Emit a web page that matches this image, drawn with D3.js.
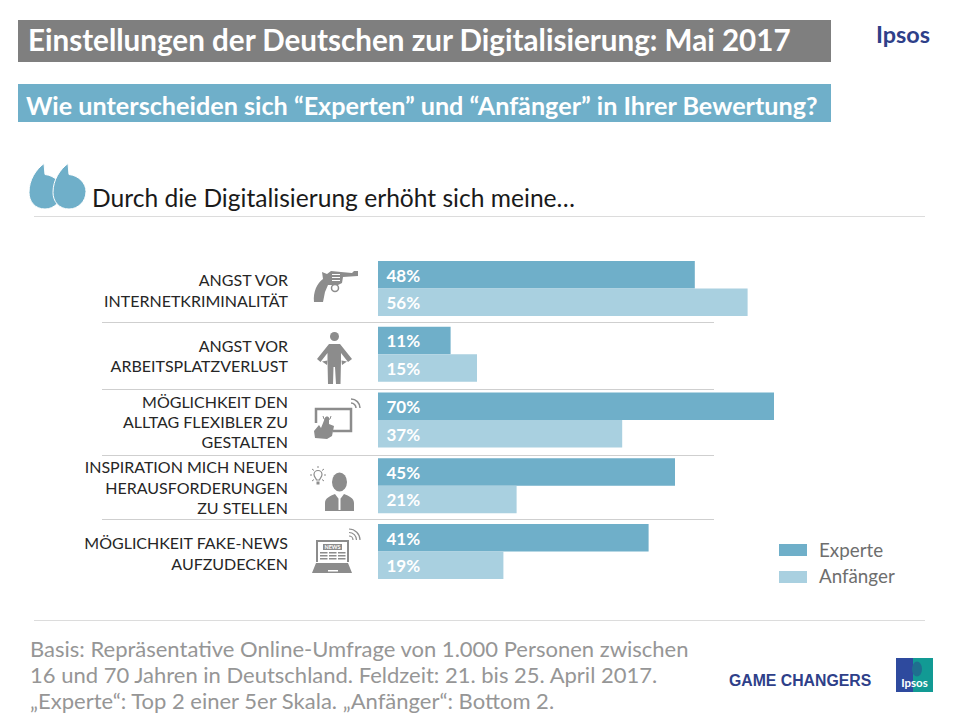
<!DOCTYPE html>
<html>
<head>
<meta charset="utf-8">
<script src="https://cdn.jsdelivr.net/npm/d3@7"></script>
<style>
    html, body { margin: 0; padding: 0; background: #fff; }
    text { font-family: Lato, "Open Sans", sans-serif; }
</style>
</head>
<body>
<div id="chart"></div>
<script>
// values
let categories = ['kriminalitaet', 'arbeitsplatz', 'alltag', 'inspiration', 'fakenews'];
let categoryLines = [
    ['ANGST VOR', 'INTERNETKRIMINALITÄT'],
    ['ANGST VOR', 'ARBEITSPLATZVERLUST'],
    ['MÖGLICHKEIT DEN', 'ALLTAG FLEXIBLER ZU', 'GESTALTEN'],
    ['INSPIRATION MICH NEUEN', 'HERAUSFORDERUNGEN', 'ZU STELLEN'],
    ['MÖGLICHKEIT FAKE-NEWS', 'AUFZUDECKEN']
];
let seriesNames = ['Experte', 'Anfänger'];
// the third Experte bar is printed "70%" but drawn only as long as 60 in the original
let experteValues = [48, 11, 60, 45, 41];
let experteLabels = ['48%', '11%', '70%', '45%', '41%'];
let anfaengerValues = [56, 15, 37, 21, 19];
let anfaengerLabels = ['56%', '15%', '37%', '21%', '19%'];
let footnoteLines = [
    'Basis: Repräsentative Online-Umfrage von 1.000 Personen zwischen',
    '16 und 70 Jahren in Deutschland. Feldzeit: 21. bis 25. April 2017.',
    '„Experte“: Top 2 einer 5er Skala. „Anfänger“: Bottom 2.'
];

let color = d3.scaleOrdinal()
    .domain(seriesNames)
    .range(['#6fafc9', '#a9d0e0']);

let svg = d3.select('#chart').append('svg')
    .attr('width', 960)
    .attr('height', 720)
    .style('display', 'block');

// header bands
svg.append('rect').attr('x', 18).attr('y', 20).attr('width', 813).attr('height', 42).attr('fill', '#7f7f7f');
svg.append('text').attr('x', 28).attr('y', 51)
    .attr('font-size', 29.6).attr('font-weight', 700).attr('fill', '#fff')
    .text('Einstellungen der Deutschen zur Digitalisierung: Mai 2017');

svg.append('rect').attr('x', 18).attr('y', 84).attr('width', 813).attr('height', 38).attr('fill', '#6fafc9');
svg.append('text').attr('x', 26).attr('y', 114.5)
    .attr('font-size', 25.2).attr('font-weight', 700).attr('fill', '#fff')
    .text('Wie unterscheiden sich “Experten” und “Anfänger” in Ihrer Bewertung?');

svg.append('text').attr('x', 876).attr('y', 43)
    .attr('font-size', 23.4).attr('font-weight', 700).attr('fill', '#2e4089')
    .text('Ipsos');

// quote marks, second one laps over the first
let quote = 'M15,0 L16,11 C26,12 33,20 33,28 C33,38 25,45.5 16,45.5 C6,45.5 0,38 0,29 C0,16 7,6 15,0 Z';
[29, 53].forEach(function(qx) {
    svg.append('path')
        .attr('d', quote)
        .attr('transform', 'translate(' + qx + ',163.5)')
        .attr('fill', '#6fafc9')
        .attr('stroke', '#fff')
        .attr('stroke-width', 1);
});

svg.append('text').attr('x', 92).attr('y', 206.5)
    .attr('font-size', 24.6).attr('fill', '#1a1a1a')
    .text('Durch die Digitalisierung erhöht sich meine…');

// dotted rules
[216.5, 620.5].forEach(function(ry) {
    svg.append('line')
        .attr('x1', 34).attr('x2', 925).attr('y1', ry).attr('y2', ry)
        .attr('stroke', '#dcdcdc').attr('stroke-width', 1);
});

// scales
let x = d3.scaleLinear().domain([0, 100]).range([378, 1038]);
let y = d3.scaleBand().domain(categories).range([261, 579]).paddingInner(0.1635);
let ySeries = d3.scaleBand().domain(seriesNames).range([0, y.bandwidth()]);

let rows = categories.map(function(c, i) {
    return {
        id: c,
        lines: categoryLines[i],
        bars: [
            { series: seriesNames[0], value: experteValues[i], label: experteLabels[i] },
            { series: seriesNames[1], value: anfaengerValues[i], label: anfaengerLabels[i] }
        ]
    };
});

let row = svg.append('g').selectAll('.row')
    .data(rows)
    .enter().append('g')
    .classed('row', true)
    .attr('transform', function(d) { return 'translate(0,' + y(d.id) + ')'; });

row.selectAll('rect')
    .data(function(d) { return d.bars; })
    .enter().append('rect')
    .attr('x', x(0))
    .attr('y', function(d) { return ySeries(d.series); })
    .attr('width', function(d) { return x(d.value) - x(0); })
    .attr('height', ySeries.bandwidth())
    .attr('fill', function(d) { return color(d.series); });

row.selectAll('.val')
    .data(function(d) { return d.bars; })
    .enter().append('text')
    .classed('val', true)
    .attr('x', x(0) + 8.5)
    .attr('y', function(d) { return ySeries(d.series) + ySeries.bandwidth() / 2 + 7; })
    .attr('font-size', 17)
    .attr('font-weight', 700)
    .attr('fill', '#fff')
    .text(function(d) { return d.label; });

// category labels, centred on the row
row.each(function(d) {
    let n = d.lines.length;
    let lineH = 20.5;
    let top = y.bandwidth() / 2 - (n - 1) * lineH / 2 + 8;
    d3.select(this).selectAll('.cat')
        .data(d.lines)
        .enter().append('text')
        .classed('cat', true)
        .attr('x', 288)
        .attr('y', function(l, i) { return top + i * lineH; })
        .attr('text-anchor', 'end')
        .attr('font-size', 16)
        .attr('fill', '#262626')
        .text(function(l) { return l; });
});

// separators between the rows
[322.5, 389.5, 455.5, 519.5].forEach(function(sy) {
    svg.append('line')
        .attr('x1', 102).attr('x2', 714).attr('y1', sy).attr('y2', sy)
        .attr('stroke', '#cfcfcf').attr('stroke-width', 1);
});

// pictograms
let grey = '#8c8c8c';
let icons = svg.append('g').attr('fill', grey);

function strokePath(d, w) {
    return icons.append('path')
        .attr('d', d)
        .attr('fill', 'none')
        .attr('stroke', grey)
        .attr('stroke-width', w);
}

// revolver
icons.append('path').attr('d',
    'M322,272 L327,274 L331,271 L341,272 L352,273 L354,271 L358,271 L358,276 L343,277 L342,283 L338,285 ' +
    'L328,285 L325,292 L323,302 L314,302 C313,292 317,283 323,279 Z');
strokePath('M332,274.5 H340 M332,277.5 H340 M332,280.5 H340', 1).attr('stroke', '#fff');
strokePath('M338.5,288 A3.5,3.5 0 1 1 331.5,288 A3.5,3.5 0 1 1 338.5,288', 1.5);

// person with empty pockets
icons.append('circle').attr('cx', 334.5).attr('cy', 336.5).attr('r', 4.5);
icons.append('path').attr('d',
    'M329,344 H340 L352,359 L348,362 L341,353 L341,361 L340.5,384 L336,384 L335,367 L333.5,367 L333,384 ' +
    'L328,384 L327.5,361 L327.5,353 L320.5,362 L317,359 Z');
icons.append('path').attr('d', 'M322,361.5 L327.5,360.5 L327,365 Z M347,361.5 L341.5,360.5 L342,365 Z');

// tablet with hand
strokePath('M316,423 V409 H351 V431 H333', 2.5);
icons.append('path').attr('d',
    'M325,418 C325,416 329,416 329,418 L329,424 L334,426 L332,436 L327,439 L315,438 L314,431 L319,425 L321,428 Z');
strokePath('M331,416 A4,4 0 1 1 323,416', 1);
strokePath('M351,403 A5,5 0 0 1 356,408 M351,399 A9,9 0 0 1 360,408', 1.5);

// head with light bulb
icons.append('ellipse').attr('cx', 339.5).attr('cy', 482).attr('rx', 7.5).attr('ry', 9.5);
icons.append('path').attr('d',
    'M325,511 L325,503 C325,498 330,496 335,494 L339.5,500 L344,494 C349,496 354,498 354,503 L354,511 Z');
strokePath('M339.5,499 V510', 2).attr('stroke', '#fff');
strokePath('M322,474.5 A4,4 0 1 0 314,474.5 C314,477 316,478 316.5,480 H319.5 C320,478 322,477 322,474.5 Z', 1.2);
strokePath('M318,466 V468 M310,475 H312 M324,475 H326 M312,469 L314,470.5 M324,469 L322,470.5 ' +
    'M312,481 L314,479.5 M324,481 L322,479.5', 1);
icons.append('rect').attr('x', 316.5).attr('y', 481.5).attr('width', 3).attr('height', 3);

// laptop with news
strokePath('M317,562 V541 H348 V562', 2);
icons.append('rect').attr('x', 323).attr('y', 544).attr('width', 19).attr('height', 6);
svg.append('text').attr('x', 332.5).attr('y', 549.2)
    .attr('text-anchor', 'middle')
    .attr('font-size', 5.5).attr('font-weight', 700).attr('fill', '#fff')
    .text('NEWS');
[320, 329, 338].forEach(function(cx) {
    [552, 555, 558].forEach(function(ly) {
        icons.append('rect').attr('x', cx).attr('y', ly).attr('width', 7.5).attr('height', 1.5);
    });
});
icons.append('path').attr('d', 'M316,563 H348 L352,573 H312 Z');
svg.append('rect').attr('x', 328).attr('y', 570).attr('width', 10).attr('height', 1.5).attr('fill', '#fff');
strokePath('M349,536 A4,4 0 0 1 353,540 M349,532.5 A7.5,7.5 0 0 1 356.5,540 M349,529 A11,11 0 0 1 360,540', 1.2);

// legend
seriesNames.forEach(function(s, i) {
    svg.append('rect')
        .attr('x', 779).attr('y', 544 + i * 27).attr('width', 28).attr('height', 12)
        .attr('fill', color(s));
    svg.append('text')
        .attr('x', 819).attr('y', 557 + i * 26)
        .attr('font-size', 18.8).attr('fill', '#6e6e6e')
        .text(s);
});

// footnote
svg.selectAll('.foot')
    .data(footnoteLines)
    .enter().append('text')
    .classed('foot', true)
    .attr('x', 30)
    .attr('y', function(d, i) { return 657 + i * 26; })
    .attr('font-size', 22)
    .attr('fill', '#969696')
    .text(function(d) { return d; });

// bottom logos
svg.append('text').attr('x', 729).attr('y', 686)
    .style('font-family', '"Liberation Sans"')
    .attr('font-size', 15.8).attr('font-weight', 700).attr('fill', '#2e4089')
    .text('GAME CHANGERS');
svg.append('rect').attr('x', 896).attr('y', 658).attr('width', 17).attr('height', 34).attr('fill', '#2e4a9e');
svg.append('rect').attr('x', 913).attr('y', 658).attr('width', 20).attr('height', 34).attr('fill', '#129a94');
svg.append('ellipse').attr('cx', 917).attr('cy', 669).attr('rx', 5).attr('ry', 7.5).attr('fill', '#1f6f8f');
svg.append('text').attr('x', 914.5).attr('y', 687)
    .attr('text-anchor', 'middle')
    .attr('font-size', 11.5).attr('font-weight', 700).attr('fill', '#fff')
    .text('Ipsos');
</script>
</body>
</html>
